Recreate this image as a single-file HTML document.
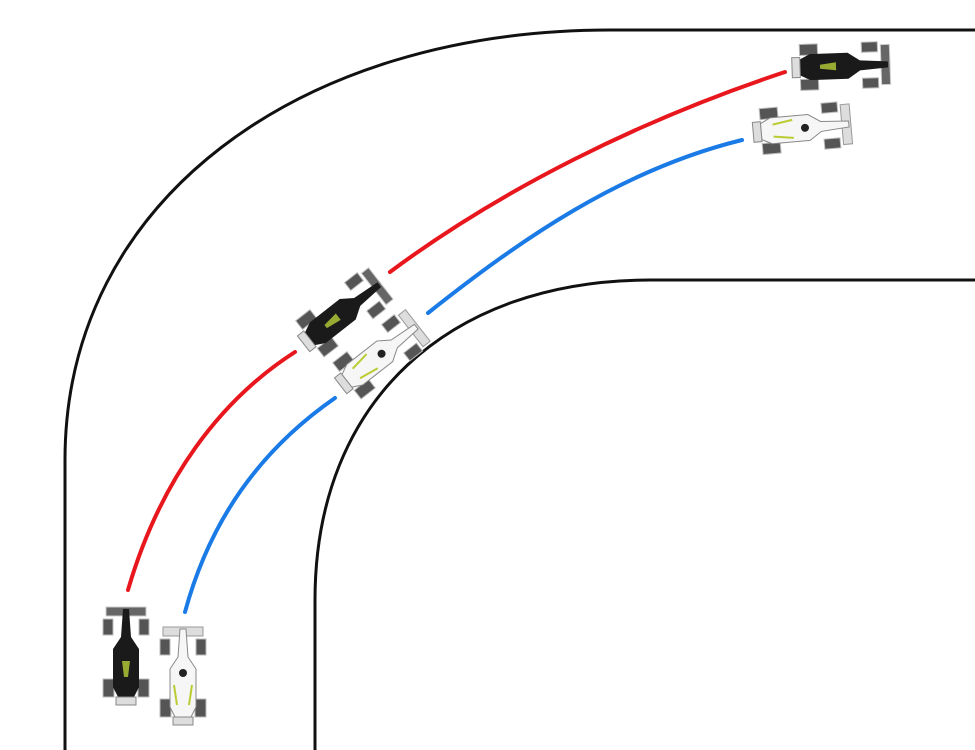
<!DOCTYPE html>
<html><head><meta charset="utf-8"><style>html,body{margin:0;padding:0;background:#fff}svg{display:block}</style></head>
<body>
<svg width="975" height="750" viewBox="0 0 975 750" xmlns="http://www.w3.org/2000/svg">
<defs>
<g id="blk">
  <rect x="-20" y="-48" width="40" height="9" fill="#666" stroke="#ccc" stroke-width="1"/>
  <rect x="-23" y="-36" width="10" height="16" fill="#555" stroke="#bbb" stroke-width="1"/>
  <rect x="13" y="-36" width="10" height="16" fill="#555" stroke="#bbb" stroke-width="1"/>
  <rect x="-23" y="24" width="11" height="18" fill="#555" stroke="#bbb" stroke-width="1"/>
  <rect x="12" y="24" width="11" height="18" fill="#555" stroke="#bbb" stroke-width="1"/>
  <path d="M-3,-46 L3,-46 L5,-18 L13,-6 L13,32 L8,42 L-8,42 L-13,32 L-13,-6 L-5,-18Z" fill="#1a1a1a"/>
  <rect x="-10" y="42" width="20" height="8" fill="#ddd" stroke="#888" stroke-width="1"/>
  <path d="M-4,6 L4,6 L2,22 L-2,22Z" fill="#9a3"/>
</g>
<g id="wht">
  <rect x="-20" y="-48" width="40" height="9" fill="#ddd" stroke="#999" stroke-width="1"/>
  <rect x="-23" y="-36" width="10" height="16" fill="#555" stroke="#bbb" stroke-width="1"/>
  <rect x="13" y="-36" width="10" height="16" fill="#555" stroke="#bbb" stroke-width="1"/>
  <rect x="-23" y="24" width="11" height="18" fill="#555" stroke="#bbb" stroke-width="1"/>
  <rect x="12" y="24" width="11" height="18" fill="#555" stroke="#bbb" stroke-width="1"/>
  <path d="M-3,-46 L3,-46 L5,-18 L13,-6 L13,32 L8,42 L-8,42 L-13,32 L-13,-6 L-5,-18Z" fill="#f6f6f6" stroke="#888" stroke-width="1"/>
  <rect x="-10" y="42" width="20" height="8" fill="#ddd" stroke="#888" stroke-width="1"/>
  <circle cx="0" cy="-2" r="4" fill="#222"/>
  <path d="M-9,10 L-6,30 M9,10 L6,30" stroke="#bc3" stroke-width="2"/>
</g>
</defs>
<g fill="none" stroke="#111" stroke-width="3">
  <path d="M65,750 L65,460 C65,200 300,30 610,30 L975,30"/>
  <path d="M315,750 L315,600 C315,400 450,280 650,280 L975,280"/>
</g>
<g fill="none" stroke-width="4" stroke-linecap="round">
  <path d="M128,590 C160,480 220,400 295,352" stroke="#e8171d"/>
  <path d="M390,272 C500,190 640,120 785,72" stroke="#e8171d"/>
  <path d="M185,612 C210,520 260,450 335,398" stroke="#1a7be6"/>
  <path d="M428,313 C520,240 620,170 742,140" stroke="#1a7be6"/>
</g>
<use href="#blk" transform="translate(126,655)"/>
<use href="#wht" transform="translate(183,675)"/>
<use href="#blk" transform="translate(343,313) rotate(52)"/>
<use href="#wht" transform="translate(380,355) rotate(52)"/>
<use href="#blk" transform="translate(842,66) rotate(88)"/>
<use href="#wht" transform="translate(803,128) rotate(85)"/>
</svg>
</body></html>
